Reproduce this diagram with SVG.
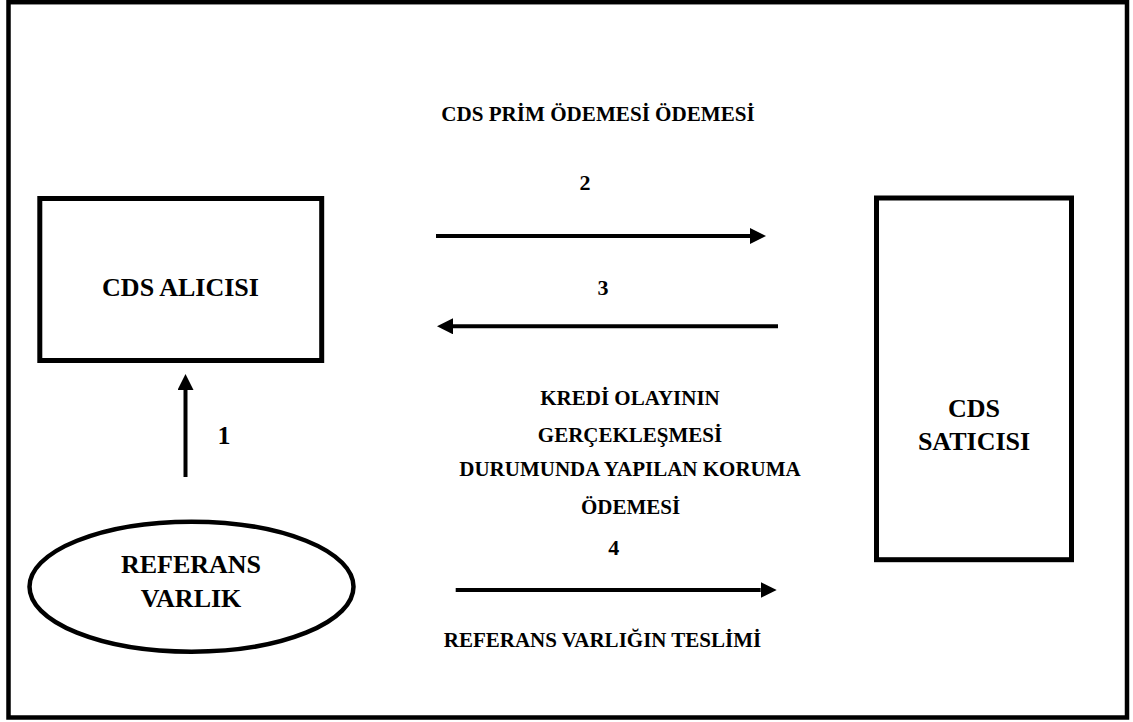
<svg xmlns="http://www.w3.org/2000/svg" width="1133" height="722" viewBox="0 0 1133 722">
  <style>
    .frame { fill: #ffffff; stroke: #000000; stroke-width: 4.5; }
    .box { fill: #ffffff; stroke: #000000; stroke-width: 5; }
    .flow { fill: none; stroke: #000000; stroke-width: 4; }
    text { font-family: "Liberation Serif", "Times New Roman", serif; font-weight: bold; fill: #000000; text-anchor: middle; }
    .big { font-size: 26px; }
    .lbl { font-size: 21px; }
    .num { font-size: 22px; }
  </style>
  <defs>
    <marker id="head" markerUnits="userSpaceOnUse" markerWidth="16" markerHeight="16" viewBox="0 0 16 16" refX="0" refY="8" orient="auto">
      <path d="M0,0 L16,8 L0,16 Z" fill="#000000"/>
    </marker>
  </defs>

  <rect width="1133" height="722" fill="#ffffff"/>
  <rect class="frame" x="8.5" y="2.2" width="1118.5" height="715.3"/>

  <g id="cds-alicisi">
    <rect class="box" x="39.8" y="198.5" width="281.9" height="162"/>
    <text class="big" x="180.5" y="295.7">CDS ALICISI</text>
  </g>

  <g id="cds-saticisi">
    <rect class="box" x="876.5" y="198" width="195" height="361.7"/>
    <text class="big" x="974" y="417">CDS</text>
    <text class="big" x="974" y="450">SATICISI</text>
  </g>

  <g id="referans-varlik">
    <ellipse cx="191.5" cy="586.7" rx="162" ry="65" fill="#ffffff" stroke="#000000" stroke-width="4.5"/>
    <text class="big" x="191" y="573.3">REFERANS</text>
    <text class="big" x="191" y="606.7">VARLIK</text>
  </g>

  <g id="connectors">
    <line class="flow" x1="185.5" y1="477" x2="185.5" y2="390" marker-end="url(#head)"/>
    <line class="flow" x1="436" y1="236" x2="750" y2="236" marker-end="url(#head)"/>
    <line class="flow" x1="778" y1="326.3" x2="453" y2="326.3" marker-end="url(#head)"/>
    <line class="flow" x1="455.7" y1="590" x2="760.7" y2="590" marker-end="url(#head)"/>
  </g>

  <g id="labels">
    <text class="big" x="224" y="444.3">1</text>
    <text class="lbl" x="598" y="121" style="font-size:21.1px">CDS PRİM ÖDEMESİ ÖDEMESİ</text>
    <text class="num" x="585" y="190">2</text>
    <text class="num" x="603" y="295">3</text>
    <text class="lbl" x="630" y="405">KREDİ OLAYININ</text>
    <text class="lbl" x="630" y="441.7">GERÇEKLEŞMESİ</text>
    <text class="lbl" x="630" y="476">DURUMUNDA YAPILAN KORUMA</text>
    <text class="lbl" x="630.5" y="513.5">ÖDEMESİ</text>
    <text class="num" x="613.7" y="555">4</text>
    <text class="lbl" x="602.5" y="646.7">REFERANS VARLIĞIN TESLİMİ</text>
  </g>
</svg>
